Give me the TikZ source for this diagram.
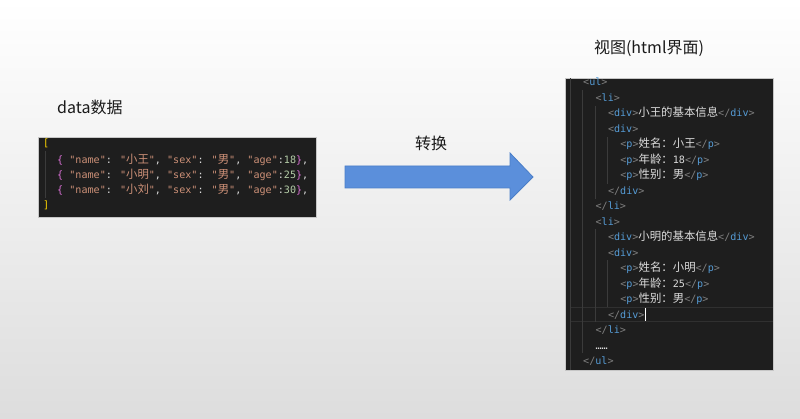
\documentclass[tikz,border=0pt]{standalone}
\usepackage{fontspec}
\setmainfont{Noto Sans CJK SC}
\newfontfamily\codefont{DejaVu Sans Mono}
\newfontfamily\codecjk{Noto Sans CJK SC}
\usetikzlibrary{positioning}
\definecolor{EditorBg}{HTML}{1E1E1E}
\definecolor{EditorGuide}{HTML}{3B3B3B}
\definecolor{EditorLine}{HTML}{303030}
\definecolor{CodeText}{HTML}{DCDCDC}
\definecolor{TagGrey}{HTML}{808080}
\definecolor{TagBlue}{HTML}{569CD6}
\definecolor{StrOrange}{HTML}{CE9178}
\definecolor{NumGreen}{HTML}{B5CEA8}
\definecolor{BraceGold}{HTML}{FFD700}
\definecolor{BraceViolet}{HTML}{DA70D6}
\definecolor{ArrowFill}{HTML}{5B8FDB}
\definecolor{ArrowEdge}{HTML}{4A7EC8}
\definecolor{BgGrey}{HTML}{DDDDDD}
\definecolor{TitleInk}{HTML}{1A1A1A}
\newcommand{\zh}[1]{{\codecjk\fontsize{11.4}{12}\selectfont #1}}
\newcommand{\otag}[1]{\textcolor{TagGrey}{<}\textcolor{TagBlue}{#1}\textcolor{TagGrey}{>}}
\newcommand{\ctag}[1]{\textcolor{TagGrey}{</}\textcolor{TagBlue}{#1}\textcolor{TagGrey}{>}}
\newcommand{\jstr}[1]{\textcolor{StrOrange}{"#1"}}
\newcommand{\jrow}[2]{\textcolor{BraceViolet}{\{} \jstr{name}: \jstr{\zh{#1}}, \jstr{sex}: \jstr{\zh{男}}, \jstr{age}:\textcolor{NumGreen}{#2}\textcolor{BraceViolet}{\}},}

\begin{document}
\begin{tikzpicture}[
    x=1pt,y=-1pt,
    title/.style={font=\fontsize{16}{18}\selectfont,text=TitleInk,inner sep=0pt},
    codebox/.style={draw=gray!45,line width=0.8pt,fill=EditorBg,inner sep=0pt},
    codeline/.style={font=\codefont\fontsize{10.1}{12}\selectfont,text=CodeText,inner sep=0pt,anchor=base west},
    guide/.style={EditorGuide,line width=0.7pt}
  ]
    \useasboundingbox (0,0) rectangle (800,419);
    \shade[top color=white,bottom color=BgGrey] (0,0) rectangle (800,419);

    % data side
    \node[title,anchor=west] (datatitle) at (57,107) {data数据};
    \node[codebox,minimum width=278,minimum height=80] (json) at (177,177) {};
    \draw[guide] (45,151) -- (45,198);
    \node[codeline] (jopen) at (43,146.7) {\textcolor{BraceGold}{[}};
    \node[codeline] (jrowa) at (57,163.7) {\jrow{小王}{18}};
    \node[codeline] (jrowb) at (57,178.7) {\jrow{小明}{25}};
    \node[codeline] (jrowc) at (57,193.7) {\jrow{小刘}{30}};
    \node[codeline] (jclose) at (43,208.7) {\textcolor{BraceGold}{]}};

    % transform arrow
    \fill[ArrowFill,draw=ArrowEdge,line width=0.8pt] (345,166) -- (510,166) -- (510,153) -- (533,177)
      -- (510,200) -- (510,188) -- (345,188) -- cycle;
    \node[title] (convert) at (431,143) {转换};

    % view side
    \node[title] (viewtitle) at (649,48) {视图(html界面)};
    \node[codebox,minimum width=208,minimum height=292] (html) at (669,224) {};
    \draw[EditorLine,line width=0.8pt] (570,307) -- (772.5,307) (570,321) -- (772.5,321);
    \draw[guide] (570,78.5) -- (570,369.5);
    \draw[guide] (582.5,90) -- (582.5,353);
    \draw[guide] (595,106) -- (595,199) (595,229) -- (595,322);
    \draw[guide] (607.5,137) -- (607.5,184) (607.5,260) -- (607.5,307);
    \foreach \i/\ind/\txt in {
        0/0/{\otag{ul}},
        1/1/{\otag{li}},
        2/2/{\otag{div}\zh{小王的基本信息}\ctag{div}},
        3/2/{\otag{div}},
        4/3/{\otag{p}\zh{姓名：小王}\ctag{p}},
        5/3/{\otag{p}\zh{年龄：}18\ctag{p}},
        6/3/{\otag{p}\zh{性别：男}\ctag{p}},
        7/2/{\ctag{div}},
        8/1/{\ctag{li}},
        9/1/{\otag{li}},
        10/2/{\otag{div}\zh{小明的基本信息}\ctag{div}},
        11/2/{\otag{div}},
        12/3/{\otag{p}\zh{姓名：小明}\ctag{p}},
        13/3/{\otag{p}\zh{年龄：}25\ctag{p}},
        14/3/{\otag{p}\zh{性别：男}\ctag{p}},
        15/2/{\ctag{div}},
        16/1/{\ctag{li}},
        17/1/{……},
        18/0/{\ctag{ul}}}
      \node[codeline] (h\i) at ({583+12.4*\ind},{82+15.5*\i+3.7}) {\txt};
    \draw[white,line width=0.9pt] (h15.south east) ++(0.8,1.5) -- ++(0,-13);
  \end{tikzpicture}
\end{document}
